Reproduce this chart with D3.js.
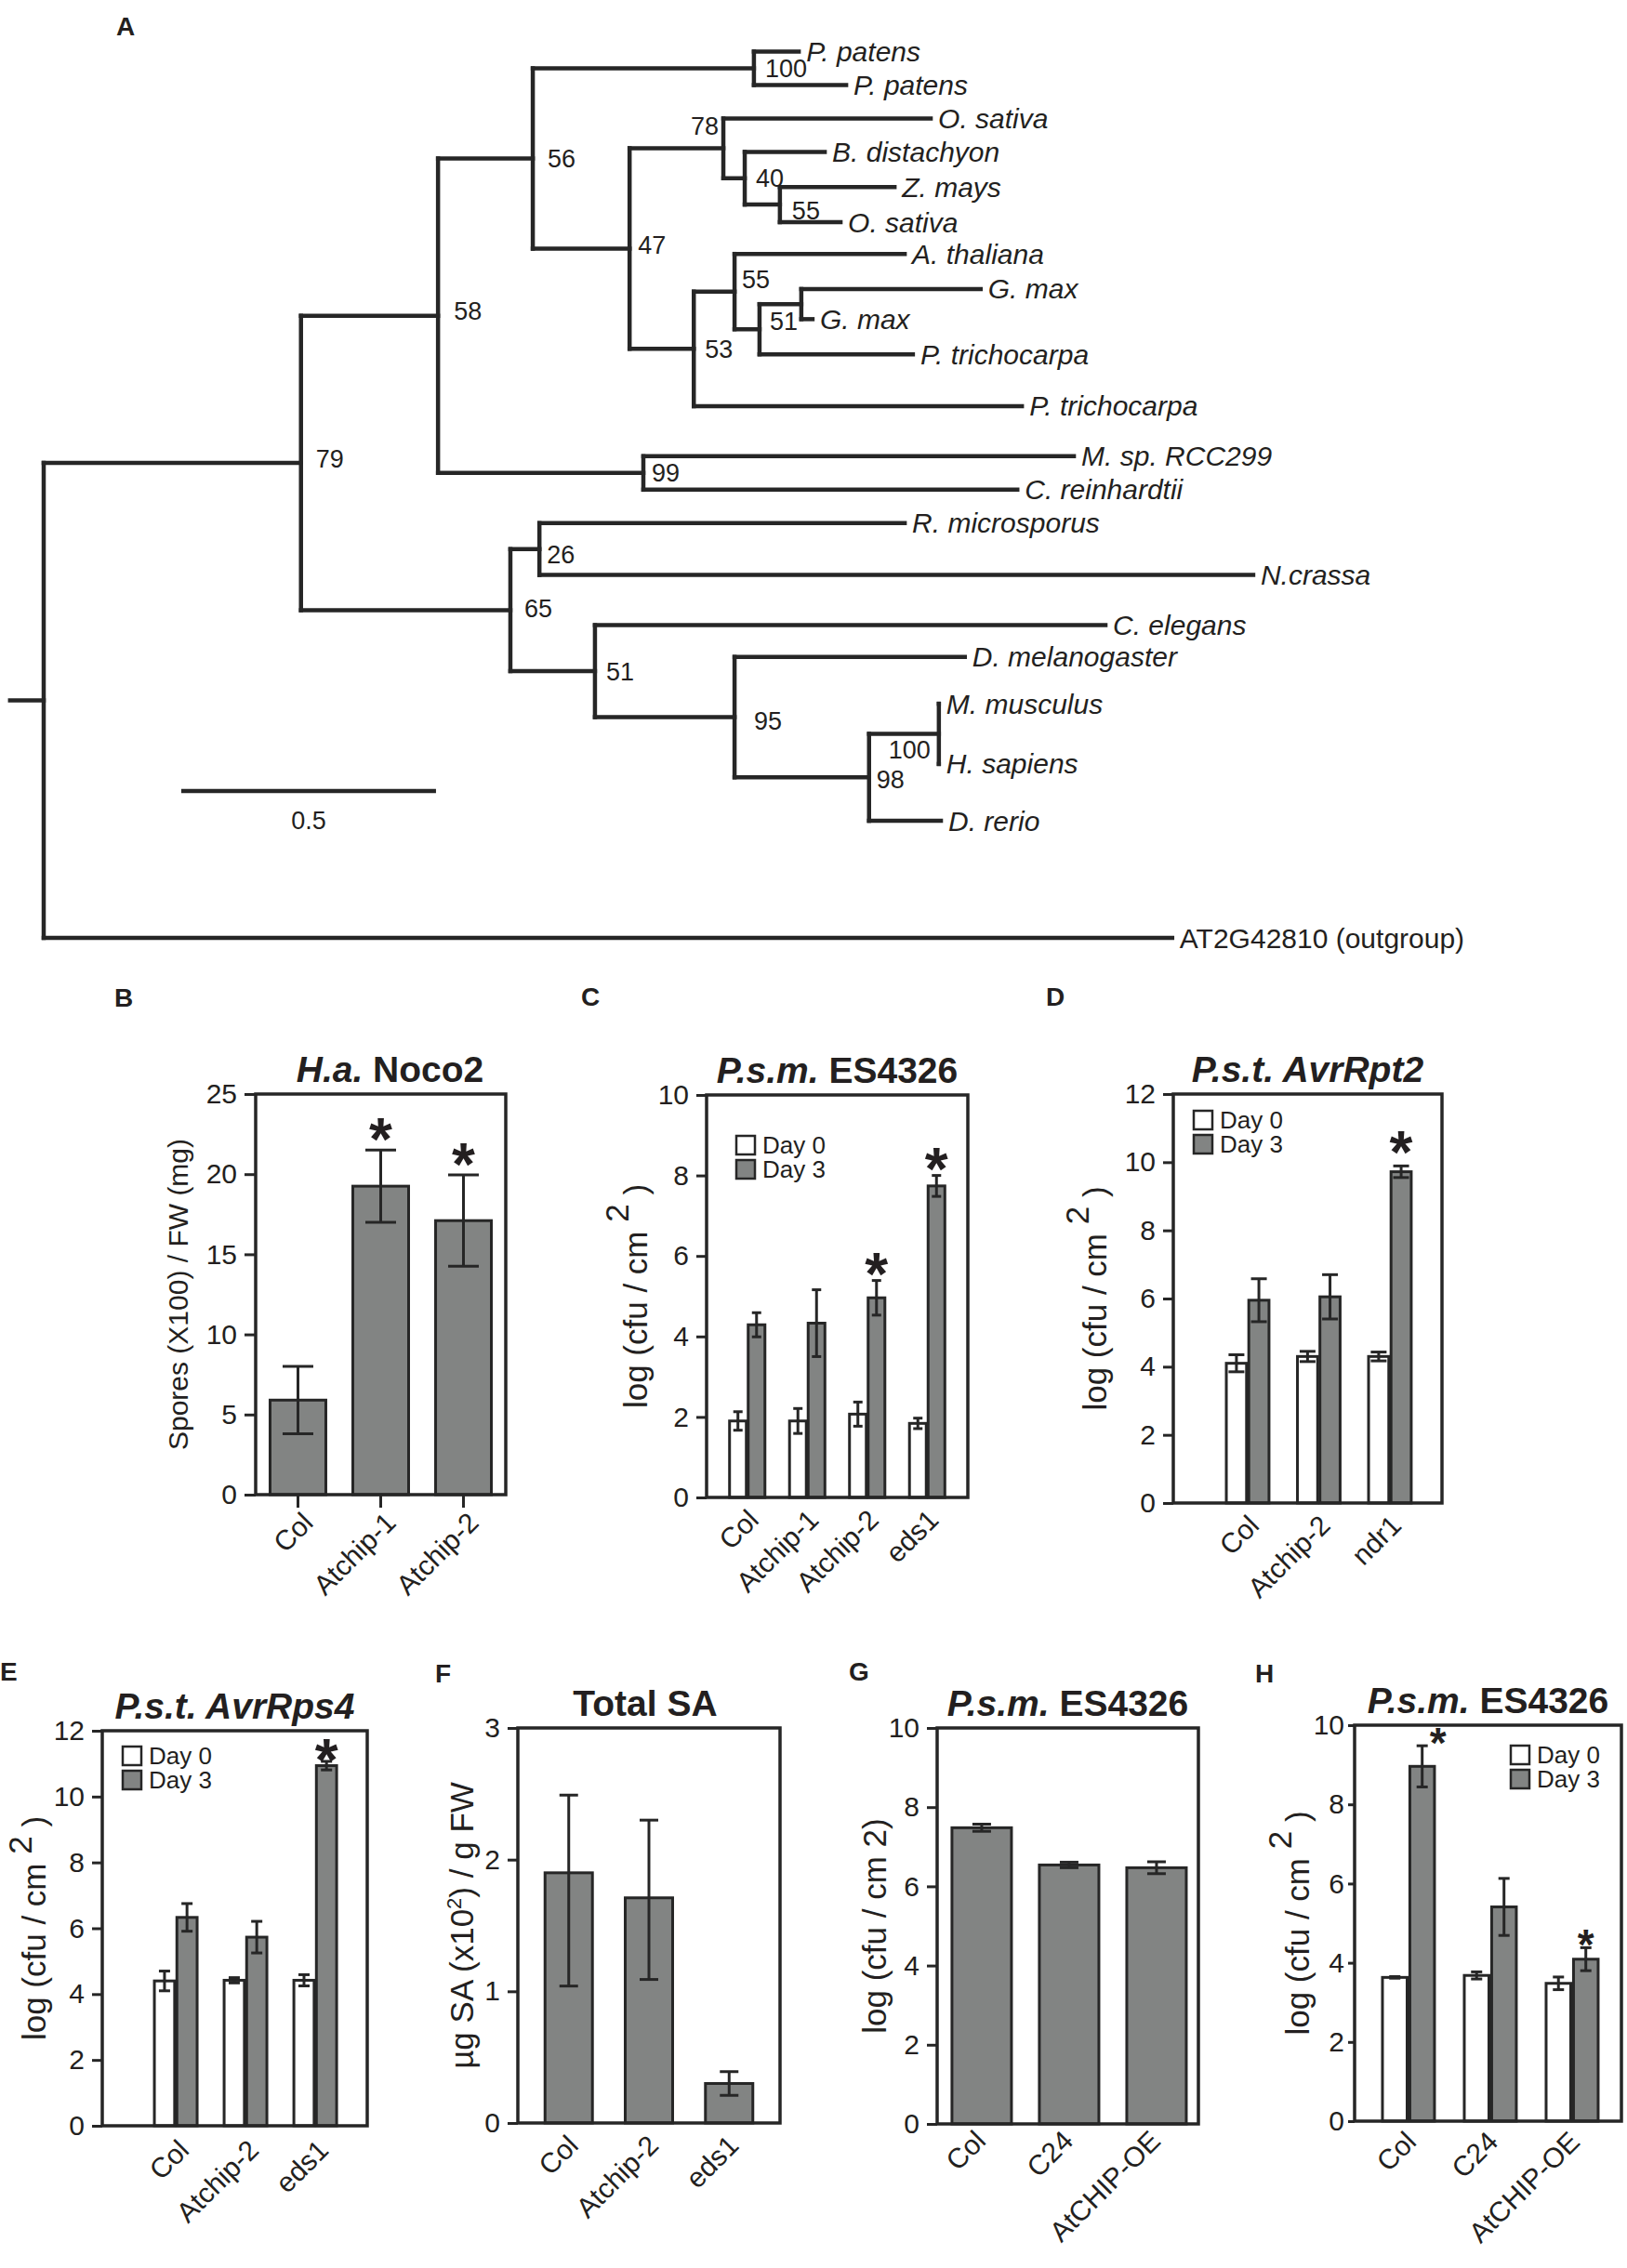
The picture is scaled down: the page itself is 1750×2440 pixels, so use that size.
<!DOCTYPE html>
<html lang="en">
<head>
  <meta charset="UTF-8">
  <title>AtCHIP phylogeny and pathogen assays</title>
  <script src="https://d3js.org/d3.v7.min.js"></script>
  <style>
    body { margin: 0; background: #fff; }
    svg text { font-family: "Liberation Sans", Arial, Helvetica, sans-serif; fill: #231f20; }
  </style>
</head>
<body>
  <script>
    // ---------- tree (panel A) ----------
    // [node, parent, branch length, bootstrap]
    const treeEdges = [
      ['root', null, 0, null],
      ['n79', 'root', 0.505, 79],
      ['n58', 'n79', 0.269, 58],
      ['n56', 'n58', 0.186, 56],
      ['npp', 'n56', 0.434, 100],
      ['Pp1', 'npp', 0.088, null],
      ['Pp2', 'npp', 0.181, null],
      ['n47', 'n56', 0.190, 47],
      ['n78', 'n47', 0.184, 78],
      ['Os1', 'n78', 0.407, null],
      ['n40', 'n78', 0.042, 40],
      ['Bd', 'n40', 0.157, null],
      ['n55a', 'n40', 0.069, 55],
      ['Zm', 'n55a', 0.225, null],
      ['Os2', 'n55a', 0.119, null],
      ['n53', 'n47', 0.126, 53],
      ['n55b', 'n53', 0.080, 55],
      ['At', 'n55b', 0.334, null],
      ['n51', 'n55b', 0.049, 51],
      ['nGm', 'n51', 0.082, null],
      ['Gm1', 'nGm', 0.352, null],
      ['Gm2', 'nGm', 0.022, null],
      ['Ptr1', 'n51', 0.301, null],
      ['Ptr2', 'n53', 0.644, null],
      ['n99', 'n58', 0.403, 99],
      ['Msp', 'n99', 0.845, null],
      ['Cr', 'n99', 0.734, null],
      ['n65', 'n79', 0.411, 65],
      ['n26', 'n65', 0.057, 26],
      ['Rm', 'n26', 0.717, null],
      ['Nc', 'n26', 1.401, null],
      ['n51b', 'n65', 0.166, 51],
      ['Ce', 'n51b', 1.002, null],
      ['n95', 'n51b', 0.274, 95],
      ['Dm', 'n95', 0.452, null],
      ['n98', 'n95', 0.264, 98],
      ['n100', 'n98', 0.137, 100],
      ['Mm', 'n100', 0, null],
      ['Hs', 'n100', 0, null],
      ['Dr', 'n98', 0.141, null],
      ['Out', 'root', 2.215, null]
    ];
    const leafIds = ['Pp1', 'Pp2', 'Os1', 'Bd', 'Zm', 'Os2', 'At', 'Gm1', 'Gm2', 'Ptr1', 'Ptr2',
      'Msp', 'Cr', 'Rm', 'Nc', 'Ce', 'Dm', 'Mm', 'Hs', 'Dr', 'Out'];
    const leafLabels = ['P. patens', 'P. patens', 'O. sativa', 'B. distachyon', 'Z. mays', 'O. sativa',
      'A. thaliana', 'G. max', 'G. max', 'P. trichocarpa', 'P. trichocarpa', 'M. sp. RCC299',
      'C. reinhardtii', 'R. microsporus', 'N.crassa', 'C. elegans', 'D. melanogaster',
      'M. musculus', 'H. sapiens', 'D. rerio', 'AT2G42810 (outgroup)'];
    // leaf row positions as drawn (rows are not evenly spaced in the figure)
    const leafRows = [0, 1, 2, 3, 4.05, 5.1, 6.05, 7.1, 8, 9.05, 10.6, 12.1, 13.1, 14.1,
      15.65, 17.15, 18.1, 19.5, 21.3, 23, 26.5];
    const scaleBarLen = 0.5;

    // ---------- bar panels ----------
    const seriesNames = ['Day 0', 'Day 3'];

    const catsB = ['Col', 'Atchip-1', 'Atchip-2'];
    const sporesB = [5.9, 19.25, 17.1];
    const sporesErrB = [2.1, 2.25, 2.85];
    const sigB = [false, true, true];

    const catsC = ['Col', 'Atchip-1', 'Atchip-2', 'eds1'];
    const day0C = [1.9, 1.9, 2.07, 1.84];
    const day0ErrC = [0.23, 0.31, 0.3, 0.13];
    const day3C = [4.29, 4.33, 4.96, 7.74];
    const day3ErrC = [0.3, 0.83, 0.43, 0.26];
    const sigC = [false, false, true, true];

    const catsD = ['Col', 'Atchip-2', 'ndr1'];
    const day0D = [4.1, 4.3, 4.3];
    const day0ErrD = [0.25, 0.15, 0.13];
    const day3D = [5.95, 6.05, 9.72];
    const day3ErrD = [0.63, 0.65, 0.17];
    const sigD = [false, false, true];

    const catsE = ['Col', 'Atchip-2', 'eds1'];
    const day0E = [4.4, 4.42, 4.42];
    const day0ErrE = [0.3, 0.08, 0.17];
    const day3E = [6.33, 5.73, 10.94];
    const day3ErrE = [0.42, 0.48, 0.13];
    const sigE = [false, false, true];

    const catsF = ['Col', 'Atchip-2', 'eds1'];
    const saF = [1.9, 1.71, 0.3];
    const saErrHiF = [0.59, 0.59, 0.09];
    const saErrLoF = [0.86, 0.62, 0.09];

    const catsG = ['Col', 'C24', 'AtCHIP-OE'];
    const cfuG = [7.48, 6.54, 6.47];
    const cfuErrG = [0.09, 0.07, 0.15];

    const catsH = ['Col', 'C24', 'AtCHIP-OE'];
    const day0H = [3.63, 3.68, 3.48];
    const day0ErrH = [0.02, 0.09, 0.16];
    const day3H = [8.96, 5.41, 4.09];
    const day3ErrH = [0.52, 0.72, 0.29];
    const sigH = [true, false, true];

    // ---------- drawing ----------
    const ink = '#262626';
    const gray = '#828483';
    const svg = d3.select('body').append('svg').attr('width', 1750).attr('height', 2440);

    function panelLetter(ch, x, y) {
      svg.append('text').attr('x', x).attr('y', y).attr('font-size', 28).attr('font-weight', 'bold').text(ch);
    }

    // --- tree ---
    const leafIndex = new Map(leafIds.map((id, i) => [id, i]));
    const tree = d3.stratify().id(d => d[0]).parentId(d => d[1])(treeEdges);
    tree.eachBefore(n => { n.dist = n.parent ? n.parent.dist + n.data[2] : 0; });
    tree.eachAfter(n => {
      if (!n.children) n.row = leafRows[leafIndex.get(n.id)];
      else n.row = (n.children[0].row + n.children[n.children.length - 1].row) / 2;
    });
    const xT = d3.scaleLinear().domain([0, 1]).range([47, 595]);
    const yT = d3.scaleLinear().domain([0, 26.5]).range([55.5, 1009]);

    const gt = svg.append('g').attr('stroke', ink).attr('stroke-width', 4.5).attr('stroke-linecap', 'square');
    gt.selectAll('line.h').data(tree.descendants().filter(n => n.parent)).join('line')
      .attr('class', 'h')
      .attr('x1', n => xT(n.parent.dist)).attr('x2', n => xT(n.dist))
      .attr('y1', n => yT(n.row)).attr('y2', n => yT(n.row));
    gt.selectAll('line.v').data(tree.descendants().filter(n => n.children)).join('line')
      .attr('class', 'v')
      .attr('x1', n => xT(n.dist)).attr('x2', n => xT(n.dist))
      .attr('y1', n => yT(n.children[0].row))
      .attr('y2', n => yT(n.children[n.children.length - 1].row));
    gt.append('line')
      .attr('x1', xT(-0.066)).attr('x2', xT(0))
      .attr('y1', yT(tree.row)).attr('y2', yT(tree.row));

    svg.append('g').selectAll('text').data(tree.leaves()).join('text')
      .attr('x', n => xT(n.dist) + 8).attr('y', n => yT(n.row)).attr('dy', '0.35em')
      .attr('font-size', 30)
      .attr('font-style', n => n.id === 'Out' ? 'normal' : 'italic')
      .text(n => leafLabels[leafIndex.get(n.id)]);

    // label placement tweaks [dx, dy, anchor]
    const bootNudge = {
      n78: [-5, -24, 'end'], n100: [-9, 17, 'end'], n55b: [8, -13], n58: [17, -5],
      n79: [16, -4], n56: [16, 0], n95: [21, 4], n65: [15, -2], n55a: [13, 6], n26: [8, 6],
      n51: [11, -9], n47: [9, -4], n99: [9, 0], n98: [8, 2]
    };
    svg.append('g').selectAll('text')
      .data(tree.descendants().filter(n => n.data[3] != null)).join('text')
      .attr('x', n => xT(n.dist) + (bootNudge[n.id] || [12])[0])
      .attr('y', n => yT(n.row) + ((bootNudge[n.id] || [12, 0])[1]))
      .attr('dy', '0.35em')
      .attr('text-anchor', n => (bootNudge[n.id] || [])[2] || 'start')
      .attr('font-size', 27)
      .text(n => n.data[3]);

    svg.append('line')
      .attr('x1', xT(0.27)).attr('x2', xT(0.27 + scaleBarLen))
      .attr('y1', 851).attr('y2', 851)
      .attr('stroke', ink).attr('stroke-width', 4.5);
    svg.append('text')
      .attr('x', (xT(0.27) + xT(0.27 + scaleBarLen)) / 2).attr('y', 892)
      .attr('text-anchor', 'middle').attr('font-size', 27).text(scaleBarLen);

    panelLetter('A', 125, 38);

    // --- bar panel ---
    function barPanel(p) {
      const g = svg.append('g');
      const y = d3.scaleLinear().domain([0, p.yMax]).range([p.bottom, p.top]);
      const x0 = d3.scaleBand().domain(p.cats).range([p.left, p.right])
        .paddingInner(p.padIn).paddingOuter(p.padOut).align(p.align);
      const nS = p.series.length;
      const x1 = d3.scaleBand().domain(d3.range(nS)).range([0, x0.bandwidth()])
        .paddingInner(nS > 1 ? 0.1 : 0);
      const cx = (c, si) => x0(c) + x1(si) + x1.bandwidth() / 2;

      p.series.forEach((s, si) => {
        const hi = s.errHi, lo = s.errLo || s.errHi;
        g.append('g').selectAll('rect').data(p.cats).join('rect')
          .attr('x', c => x0(c) + x1(si))
          .attr('y', (c, i) => y(s.vals[i]))
          .attr('width', x1.bandwidth())
          .attr('height', (c, i) => y(0) - y(s.vals[i]))
          .attr('fill', s.fill).attr('stroke', ink).attr('stroke-width', 3);
        const eg = g.append('g').attr('stroke', ink).attr('stroke-width', 3);
        p.cats.forEach((c, i) => {
          const top = y(s.vals[i] + hi[i]), bot = y(s.vals[i] - lo[i]), xc = cx(c, si);
          eg.append('line').attr('x1', xc).attr('x2', xc).attr('y1', top).attr('y2', bot);
          eg.append('line').attr('x1', xc - p.capW / 2).attr('x2', xc + p.capW / 2).attr('y1', top).attr('y2', top);
          eg.append('line').attr('x1', xc - p.capW / 2).attr('x2', xc + p.capW / 2).attr('y1', bot).attr('y2', bot);
        });
      });

      // significance stars on the last series
      if (p.sig) {
        const s = p.series[nS - 1];
        g.append('g').selectAll('text').data(p.cats.filter((c, i) => p.sig[i])).join('text')
          .attr('x', c => cx(c, nS - 1) + (p.starDx ? p.starDx[p.cats.indexOf(c)] : 0))
          .attr('y', c => {
            const i = p.cats.indexOf(c);
            return y(s.vals[i] + s.errHi[i]) - p.starGap + 0.58 * p.starSize;
          })
          .attr('text-anchor', 'middle').attr('font-size', p.starSize).attr('font-weight', 'bold')
          .text('*');
      }

      // frame
      g.append('rect').attr('x', p.left).attr('y', p.top)
        .attr('width', p.right - p.left).attr('height', p.bottom - p.top)
        .attr('fill', 'none').attr('stroke', ink).attr('stroke-width', 3.5);

      // y axis
      const ya = g.append('g').attr('transform', `translate(${p.left},0)`)
        .call(d3.axisLeft(y).tickValues(d3.range(0, p.yMax + 0.001, p.yStep))
          .tickFormat(d3.format('d'))
          .tickSize(p.tick || 11).tickPadding(p.tickPad || 8).tickSizeOuter(0));
      ya.select('.domain').remove();
      ya.selectAll('line').attr('stroke', ink).attr('stroke-width', 3);
      ya.selectAll('text').attr('font-size', 30).attr('font-family', null).attr('fill', '#231f20');

      if (p.xTicks) {
        const xa = g.append('g').attr('transform', `translate(0,${p.bottom})`)
          .call(d3.axisBottom(x0).tickSize(p.xTicks).tickFormat(''));
        xa.select('.domain').remove();
        xa.selectAll('line').attr('stroke', ink).attr('stroke-width', 3);
      }

      // category labels
      g.append('g').selectAll('text').data(p.cats).join('text')
        .attr('transform', c => `translate(${x0(c) + x0.bandwidth() / 2 + p.labDx},${p.bottom + p.labDy}) rotate(-45)`)
        .attr('text-anchor', 'end').attr('font-size', 30)
        .text(c => c);

      // title
      const tt = g.append('text')
        .attr('x', (p.left + p.right) / 2 + (p.titleDx || 0)).attr('y', p.top - 13)
        .attr('text-anchor', 'middle').attr('font-size', p.titleSize || 39).attr('font-weight', 'bold')
        .style('white-space', 'pre');
      p.title.forEach(part => tt.append('tspan').attr('font-style', part.i ? 'italic' : 'normal').text(part.t));

      // y label
      const yl = g.append('text')
        .attr('transform', `translate(${p.ylabX},${(p.top + p.bottom) / 2}) rotate(-90)`)
        .attr('text-anchor', 'middle').attr('font-size', p.ylabSize || 35)
        .style('white-space', 'pre');
      let shift = 0;
      p.ylab.forEach(part => {
        const want = part.sup ? (part.small ? -13 : -(p.supShift || 19)) : 0;
        const ts = yl.append('tspan').attr('dy', want - shift).text(part.t);
        if (part.small) ts.attr('font-size', 22);
        shift = want;
      });

      // legend
      if (p.legend) {
        const lg = g.append('g');
        p.series.forEach((s, si) => {
          lg.append('rect').attr('x', p.legend[0]).attr('y', p.legend[1] + si * 26)
            .attr('width', 20).attr('height', 20)
            .attr('fill', s.fill).attr('stroke', ink).attr('stroke-width', 2.5);
          lg.append('text').attr('x', p.legend[0] + 28).attr('y', p.legend[1] + si * 26 + 19)
            .attr('font-size', 26).text(seriesNames[si]);
        });
      }
    }

    const logLabSup = [{ t: 'log (cfu / cm ' }, { t: '2', sup: true }, { t: ' )' }];
    const psm = [{ t: 'P.s.m.', i: true }, { t: ' ES4326' }];

    barPanel({
      left: 275, right: 544, top: 1177, bottom: 1608, yMax: 25, yStep: 5,
      cats: catsB, padIn: 0.326, padOut: 0.174, align: 0.5,
      series: [{ vals: sporesB, errHi: sporesErrB, fill: gray }],
      sig: sigB, starGap: 26, starSize: 64, capW: 33, tick: 12, xTicks: 14,
      labDx: 18, labDy: 32, title: [{ t: 'H.a.', i: true }, { t: ' Noco2' }], titleDx: 10,
      ylab: [{ t: 'Spores (X100) / FW (mg)' }], ylabX: 202, ylabSize: 30
    });
    panelLetter('B', 123, 1083);

    barPanel({
      left: 760, right: 1041, top: 1178, bottom: 1611, yMax: 10, yStep: 2,
      cats: catsC, padIn: 0.41, padOut: 0.383, align: 0.5,
      series: [{ vals: day0C, errHi: day0ErrC, fill: '#fff' }, { vals: day3C, errHi: day3ErrC, fill: gray }],
      sig: sigC, starGap: 22, starSize: 64, capW: 10,
      labDx: 14, labDy: 26, title: psm,
      ylab: logLabSup, ylabX: 696, supShift: 20, legend: [792, 1222]
    });
    panelLetter('C', 625, 1082);

    barPanel({
      left: 1262, right: 1551, top: 1177, bottom: 1617, yMax: 12, yStep: 2,
      cats: catsD, padIn: 0.4, padOut: 0.589, align: 0.633,
      series: [{ vals: day0D, errHi: day0ErrD, fill: '#fff' }, { vals: day3D, errHi: day3ErrD, fill: gray }],
      sig: sigD, starGap: 29, starSize: 64, capW: 17,
      labDx: 14, labDy: 26, title: [{ t: 'P.s.t. AvrRpt2', i: true }],
      ylab: logLabSup, ylabX: 1190, legend: [1284, 1195]
    });
    panelLetter('D', 1125, 1082);

    barPanel({
      left: 110, right: 395, top: 1862, bottom: 2287, yMax: 12, yStep: 2,
      cats: catsE, padIn: 0.387, padOut: 0.593, align: 0.63,
      series: [{ vals: day0E, errHi: day0ErrE, fill: '#fff' }, { vals: day3E, errHi: day3ErrE, fill: gray }],
      sig: sigE, starGap: 16, starSize: 64, capW: 12,
      labDx: 16, labDy: 28, title: [{ t: 'P.s.t. AvrRps4', i: true }],
      ylab: logLabSup, ylabX: 49, supShift: 15, legend: [132, 1879]
    });
    panelLetter('E', 0, 1808);

    barPanel({
      left: 557, right: 839, top: 1859, bottom: 2284, yMax: 3, yStep: 1,
      cats: catsF, padIn: 0.409, padOut: 0.339, align: 0.5,
      series: [{ vals: saF, errHi: saErrHiF, errLo: saErrLoF, fill: gray }],
      capW: 20, labDx: 12, labDy: 26, title: [{ t: 'Total SA' }], titleDx: -4,
      ylab: [{ t: 'µg SA (x10' }, { t: '2', sup: true, small: true }, { t: ') / g FW' }], ylabX: 509
    });
    panelLetter('F', 468, 1810);

    barPanel({
      left: 1008, right: 1289, top: 1859, bottom: 2285, yMax: 10, yStep: 2,
      cats: catsG, padIn: 0.319, padOut: 0.154, align: 0.55,
      series: [{ vals: cfuG, errHi: cfuErrG, fill: gray }],
      capW: 20, labDx: 6, labDy: 20, title: psm,
      ylab: [{ t: 'log (cfu / cm 2)' }], ylabX: 953
    });
    panelLetter('G', 913, 1808);

    barPanel({
      left: 1457, right: 1744, top: 1856, bottom: 2282, yMax: 10, yStep: 2,
      cats: catsH, padIn: 0.364, padOut: 0.3125, align: 0.545,
      series: [{ vals: day0H, errHi: day0ErrH, fill: '#fff' }, { vals: day3H, errHi: day3ErrH, fill: gray }],
      sig: sigH, starGap: 14, starSize: 46, starDx: [17, 0, 0], capW: 12, tick: 7, tickPad: 4,
      labDx: 10, labDy: 24, title: psm,
      ylab: logLabSup, ylabX: 1408, legend: [1625, 1878]
    });
    panelLetter('H', 1350, 1810);
  </script>
</body>
</html>
